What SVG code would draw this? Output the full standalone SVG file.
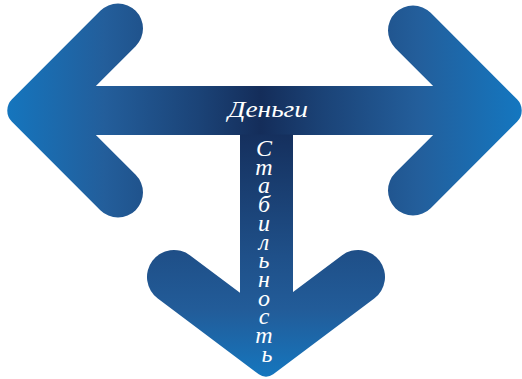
<svg xmlns="http://www.w3.org/2000/svg" width="522" height="379" viewBox="0 0 522 379">
  <defs>
    <linearGradient id="gH" gradientUnits="userSpaceOnUse" x1="0" y1="0" x2="522" y2="0">
      <stop offset="0" stop-color="#1477c0"/>
      <stop offset="0.2" stop-color="#235e9b"/>
      <stop offset="0.38" stop-color="#1b4377"/>
      <stop offset="0.5" stop-color="#142d5a"/>
      <stop offset="0.62" stop-color="#1b4377"/>
      <stop offset="0.8" stop-color="#235e9b"/>
      <stop offset="1" stop-color="#1477c0"/>
    </linearGradient>
    <linearGradient id="gV" gradientUnits="userSpaceOnUse" x1="0" y1="135" x2="0" y2="378">
      <stop offset="0" stop-color="#15305e"/>
      <stop offset="0.5" stop-color="#1f5089"/>
      <stop offset="0.72" stop-color="#225c99"/>
      <stop offset="1" stop-color="#1577bf"/>
    </linearGradient>
  </defs>
  <style>
    .h { fill: url(#gH); }
    .v { fill: url(#gV); }
    .t { font-family: "Liberation Serif", "DejaVu Serif", serif; font-style: italic; font-size: 24px; fill: #ffffff; text-anchor: middle; }
  </style>
  <g id="arrow-left">
    <path class="h" d="M 11.95 99.19 L 100.32 10.82 A 25 25 0 0 1 135.68 46.18 L 71.36 110.5 L 135.68 174.82 A 25 25 0 0 1 100.32 210.18 L 11.95 121.81 A 16 16 0 0 1 11.95 99.19 Z"/>
  </g>
  <g id="arrow-right">
    <path class="h" d="M 517.05 99.19 L 430.68 12.82 A 25 25 0 0 0 395.32 48.18 L 457.64 110.5 L 395.32 172.82 A 25 25 0 0 0 430.68 208.18 L 517.05 121.81 A 16 16 0 0 0 517.05 99.19 Z"/>
  </g>
  <g id="bar-money">
    <rect class="h" x="60" y="86" width="410" height="49"/>
    <text class="t" x="268" y="117" textLength="80" lengthAdjust="spacingAndGlyphs">Деньги</text>
  </g>
  <g id="arrow-down">
    <rect class="v" x="240" y="134.5" width="53" height="200"/>
    <path class="v" d="M 258.8 374.35 L 157.8 298.6 A 27 27 0 0 1 190.2 255.4 L 266 312.25 L 341.8 255.4 A 27 27 0 0 1 374.2 298.6 L 273.2 374.35 A 12 12 0 0 1 258.8 374.35 Z"/>
    <text class="t">
      <tspan x="267" y="156">С</tspan>
      <tspan x="267" y="174.7">т</tspan>
      <tspan x="267" y="193.4">а</tspan>
      <tspan x="267" y="212.1">б</tspan>
      <tspan x="267" y="230.8">и</tspan>
      <tspan x="267" y="249.5">л</tspan>
      <tspan x="267" y="268.2">ь</tspan>
      <tspan x="267" y="286.9">н</tspan>
      <tspan x="267" y="305.6">о</tspan>
      <tspan x="267" y="324.3">с</tspan>
      <tspan x="267" y="343">т</tspan>
      <tspan x="267" y="361.7">ь</tspan>
    </text>
  </g>
</svg>
